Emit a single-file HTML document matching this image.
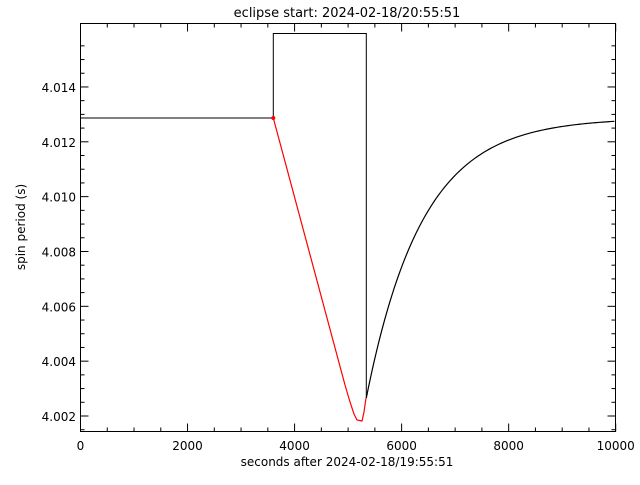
<!DOCTYPE html>
<html><head><style>
body{margin:0;background:#fff;width:640px;height:480px;overflow:hidden}
svg text{font-family:"DejaVu Sans","Liberation Sans",sans-serif;font-size:12px;fill:#000}
</style></head><body>
<svg id="s" width="640" height="480" xmlns="http://www.w3.org/2000/svg">
<rect x="80.5" y="23.5" width="535" height="408" fill="none" stroke="#000" stroke-width="1"/>
<text x="347" y="17" text-anchor="middle" style="font-size:13px">eclipse start: 2024-02-18/20:55:51</text>
<text x="347" y="466" text-anchor="middle">seconds after 2024-02-18/19:55:51</text>
<text transform="translate(25,227) rotate(-90)" text-anchor="middle">spin period (s)</text>
<polyline points="80.5,118 273.3,118 273.3,33.5 366.3,33.5 366.3,398" fill="none" stroke="#000"/>
<polyline id="blk" fill="none" stroke="#000" stroke-width="1.2"/>
<polyline id="red" fill="none" stroke="#f00" stroke-width="1.2"/>
<g id="ticks" stroke="#000"></g>
</svg>
<script>
var g=document.getElementById('ticks'),h='';
function X(v){return 80.5+v*0.05352;}
function Y(v){return 416-(v-4.002)/0.001*27.42;}
for(var v=0;v<=10000;v+=500){var x=X(v),L=v%2000==0?8:4;
h+='<line x1="'+x+'" y1="431.5" x2="'+x+'" y2="'+(431.5-L)+'"/><line x1="'+x+'" y1="23.5" x2="'+x+'" y2="'+(23.5+L)+'"/>';
if(v%2000==0)h+='<text stroke="none" x="'+x+'" y="450" text-anchor="middle">'+v+'</text>';}
for(var i=0;i<=28;i++){var v=4.0015+i*0.0005,y=Y(v);if(y<40||y>432)continue;var maj=Math.abs(((v-4.002)/0.002)-Math.round((v-4.002)/0.002))<1e-6,L=maj?8:4;
h+='<line x1="80.5" y1="'+y+'" x2="'+(80.5+L)+'" y2="'+y+'"/><line x1="615.5" y1="'+y+'" x2="'+(615.5-L)+'" y2="'+y+'"/>';
if(maj)h+='<text stroke="none" x="76" y="'+(y+5)+'" text-anchor="end">'+v.toFixed(3)+'</text>';}
g.innerHTML=h;
var p=[];for(var x=366.3;x<=615.5;x+=2){p.push(x+','+(118+280*Math.exp(-(x-366.3)/56)));}
document.getElementById('blk').setAttribute('points',p.join(' '));
var r=['273.3,118','345,385','350,402','354,414','357,420','362,421','364,412','366,398'];
document.getElementById('red').setAttribute('points',r.join(' '));
</script>
<svg style="position:absolute;left:0;top:0" width="640" height="480"><circle cx="273.3" cy="118" r="2" fill="#f00"/></svg>
</body></html>
